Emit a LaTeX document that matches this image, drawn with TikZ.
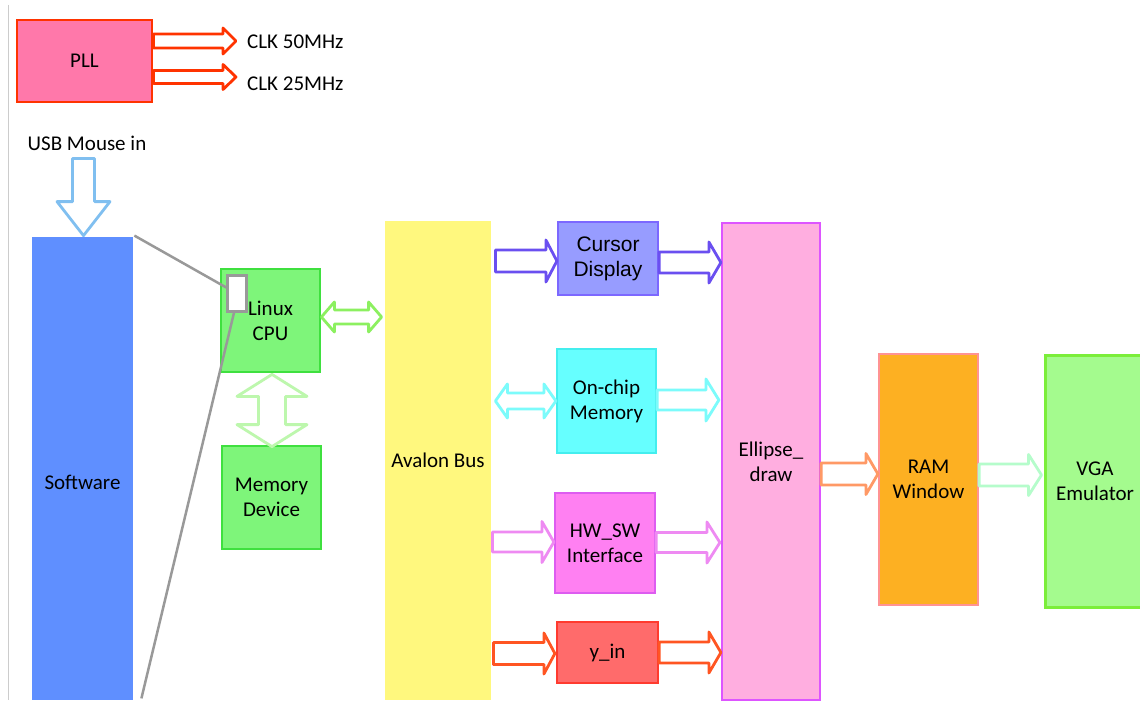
\documentclass[tikz,border=0pt]{standalone}
\usepackage{fontspec}
\setmainfont{Carlito}
\newfontfamily\arialf{Liberation Sans}
\usetikzlibrary{calc}

\definecolor{pllfill}{HTML}{FF78AA}
\definecolor{pllred}{HTML}{FF3300}
\definecolor{usbblue}{HTML}{80BFF0}
\definecolor{swblue}{HTML}{5F8FFF}
\definecolor{cpufill}{HTML}{7EF57A}
\definecolor{cpuborder}{HTML}{3FE03F}
\definecolor{cpuarr}{HTML}{8CF060}
\definecolor{memarr}{HTML}{BDF7AD}
\definecolor{avalonfill}{HTML}{FFF87E}
\definecolor{curfill}{HTML}{979CFF}
\definecolor{curborder}{HTML}{7C68FF}
\definecolor{curarr}{HTML}{6A4FF0}
\definecolor{ocfill}{HTML}{66FFFF}
\definecolor{ocborder}{HTML}{44EEEE}
\definecolor{ocarr}{HTML}{7CFBFB}
\definecolor{hwfill}{HTML}{FF80F2}
\definecolor{hwborder}{HTML}{DD5CF0}
\definecolor{hwarr}{HTML}{EE8AF2}
\definecolor{yinfill}{HTML}{FF6B6B}
\definecolor{yinborder}{HTML}{FF3B2F}
\definecolor{yinarr}{HTML}{FF5522}
\definecolor{ellfill}{HTML}{FFAEE0}
\definecolor{ellborder}{HTML}{DD55FF}
\definecolor{ellarr}{HTML}{FF9966}
\definecolor{ramfill}{HTML}{FDB022}
\definecolor{ramborder}{HTML}{FF9393}
\definecolor{ramarr}{HTML}{B5FCCB}
\definecolor{vgafill}{HTML}{A4FB8E}
\definecolor{vgaborder}{HTML}{7BEE3A}
\definecolor{linkgray}{HTML}{999999}
\definecolor{edgegray}{HTML}{CCCCCC}

% right-pointing block arrow: [colour]{from}{to}{y}{shaft half}{head half}{head length}
\newcommand\rarr[7][black]{\draw[blockarrow,draw=#1] let \p1=(#2), \p2=(#3) in
 (\x1,{(#4+#5)*1pt}) -- ({\x2-#7*1pt},{(#4+#5)*1pt}) -- ({\x2-#7*1pt},{(#4+#6)*1pt})
 -- (\x2,{#4*1pt}) -- ({\x2-#7*1pt},{(#4-#6)*1pt}) -- ({\x2-#7*1pt},{(#4-#5)*1pt})
 -- (\x1,{(#4-#5)*1pt}) -- cycle;}
% horizontal double block arrow
\newcommand\hdarr[7][black]{\draw[blockarrow,draw=#1] let \p1=(#2), \p2=(#3) in
 (\x1,{#4*1pt}) -- ({\x1+#7*1pt},{(#4+#6)*1pt}) -- ({\x1+#7*1pt},{(#4+#5)*1pt})
 -- ({\x2-#7*1pt},{(#4+#5)*1pt}) -- ({\x2-#7*1pt},{(#4+#6)*1pt}) -- (\x2,{#4*1pt})
 -- ({\x2-#7*1pt},{(#4-#6)*1pt}) -- ({\x2-#7*1pt},{(#4-#5)*1pt})
 -- ({\x1+#7*1pt},{(#4-#5)*1pt}) -- ({\x1+#7*1pt},{(#4-#6)*1pt}) -- cycle;}
% downward block arrow: [colour]{top}{tip}{x}{shaft half}{head half}{head length}
\newcommand\darr[7][black]{\draw[blockarrow,draw=#1] let \p1=(#2), \p2=(#3) in
 ({(#4-#5)*1pt},\y1) -- ({(#4+#5)*1pt},\y1) -- ({(#4+#5)*1pt},{\y2+#7*1pt})
 -- ({(#4+#6)*1pt},{\y2+#7*1pt}) -- ({#4*1pt},\y2) -- ({(#4-#6)*1pt},{\y2+#7*1pt})
 -- ({(#4-#5)*1pt},{\y2+#7*1pt}) -- cycle;}
% vertical double block arrow
\newcommand\vdarr[7][black]{\draw[blockarrow,draw=#1] let \p1=(#2), \p2=(#3) in
 ({#4*1pt},\y1) -- ({(#4+#6)*1pt},{\y1-#7*1pt}) -- ({(#4+#5)*1pt},{\y1-#7*1pt})
 -- ({(#4+#5)*1pt},{\y2+#7*1pt}) -- ({(#4+#6)*1pt},{\y2+#7*1pt}) -- ({#4*1pt},\y2)
 -- ({(#4-#6)*1pt},{\y2+#7*1pt}) -- ({(#4-#5)*1pt},{\y2+#7*1pt})
 -- ({(#4-#5)*1pt},{\y1-#7*1pt}) -- ({(#4-#6)*1pt},{\y1-#7*1pt}) -- cycle;}

\begin{document}
\begin{tikzpicture}[x=1pt,y=1pt,
  box/.style={draw, line width=2.8pt, inner sep=0pt, align=center,
    font={\fontsize{21}{25}\selectfont}},
  lbl/.style={inner sep=0pt, font={\fontsize{21}{25}\selectfont}},
  blockarrow/.style={fill=white, line width=2.8pt, line join=round},
  link/.style={draw=linkgray, line width=2.5pt}]
\useasboundingbox (0,0) rectangle (1140,-706);
\clip (0,0) rectangle (1140,-706);
\fill[white] (0,0) rectangle (1140,-706);

\draw[edgegray, line width=1pt] (8,-5) -- (8,-700);

% PLL and clocks
\node[box, fill=pllfill, draw=pllred, minimum width=135pt, minimum height=82pt] (pll) at (84.5,-61) {PLL};
\node[lbl, anchor=west] (clk50) at (247,-42) {CLK 50MHz};
\node[lbl, anchor=west] (clk25) at (247,-84) {CLK 25MHz};
\rarr[pllred]{pll.east}{$(clk50.west)+(-11,0)$}{-41}{7}{13}{13}
\rarr[pllred]{pll.east}{$(clk25.west)+(-11,0)$}{-77}{6.5}{12.5}{13}

% Software side
\node[lbl] (usb) at (87,-143) {USB Mouse in};
\node[box, draw=none, fill=swblue, minimum width=101pt, minimum height=463pt] (sw) at (82.5,-468.5) {};
\node[lbl] at (82.5,-482) {Software};
\darr[usbblue]{$(usb.south)+(0,-8)$}{sw.north}{83.5}{11}{26.5}{34}

% CPU and memory
\node[box, fill=cpufill, draw=cpuborder, minimum width=99pt, minimum height=103pt] (cpu) at (270.5,-320.5) {Linux\\CPU};
\node[box, fill=cpufill, draw=cpuborder, minimum width=99pt, minimum height=103pt] (mem) at (271.5,-497.5) {Memory\\Device};
\node[draw=linkgray, fill=white, line width=2.5pt, inner sep=0pt, minimum width=19pt, minimum height=36pt] (port) at (237,-293.5) {};
\draw[link] (sw.north east) -- ($(port.west)+(0,6)$);
\draw[link] ($(port.south)+(-3,0)$) -- ($(sw.south east)+(7,3)$);
\vdarr[memarr]{$(cpu.south)+(0,-1)$}{$(mem.north)+(0,-2)$}{272}{13.5}{35}{22}

% Avalon bus
\node[box, draw=none, fill=avalonfill, minimum width=106pt, minimum height=479pt] (avalon) at (438,-460.5) {Avalon Bus};
\hdarr[cpuarr]{cpu.east}{$(avalon.west)+(-2,0)$}{-317}{7}{15}{13}

% Peripherals
\node[box, fill=curfill, draw=curborder, line width=2.2pt, minimum width=100pt, minimum height=73pt, font={\arialf\fontsize{21}{25}\selectfont}] (cursor) at (608,-258.5) {Cursor\\Display};
\node[box, fill=ocfill, draw=ocborder, line width=2.2pt, minimum width=99pt, minimum height=104pt] (onchip) at (606.5,-401) {On-chip\\Memory};
\node[box, fill=hwfill, draw=hwborder, line width=2.2pt, minimum width=100pt, minimum height=100pt] (hwsw) at (605,-543) {HW\_SW\\Interface};
\node[box, fill=yinfill, draw=yinborder, line width=2.2pt, minimum width=101pt, minimum height=61pt] (yin) at (607.5,-652.5) {y\_in};

% Ellipse_draw, RAM, VGA
\node[box, fill=ellfill, draw=ellborder, line width=2.2pt, minimum width=98pt, minimum height=477pt] (ell) at (771,-461.5) {Ellipse\_\\draw};
\node[box, fill=ramfill, draw=ramborder, line width=2.2pt, minimum width=99pt, minimum height=251pt] (ram) at (928.5,-479.5) {RAM\\Window};
\node[box, fill=vgafill, draw=vgaborder, line width=3pt, minimum width=100pt, minimum height=252pt] (vga) at (1095,-481) {VGA\\Emulator};

% bus to peripherals
\rarr[curarr]{$(avalon.east)+(3,0)$}{cursor.west}{-261}{11}{21}{11}
\hdarr[ocarr]{$(avalon.east)+(3,0)$}{onchip.west}{-401}{8}{17}{12}
\rarr[hwarr]{avalon.east}{hwsw.west}{-542}{10}{20.5}{12}
\rarr[yinarr]{$(avalon.east)+(1,0)$}{$(yin.west)+(-1,0)$}{-653.5}{11}{20.5}{11}

% peripherals to Ellipse_draw
\rarr[curarr]{cursor.east}{ell.west}{-262.5}{10.5}{20.5}{12}
\rarr[ocarr]{onchip.east}{$(ell.west)+(-2,0)$}{-400}{10}{21}{13}
\rarr[hwarr]{hwsw.east}{$(ell.west)+(-1,0)$}{-542.5}{10}{20.5}{13}
\rarr[yinarr]{yin.east}{ell.west}{-652.5}{10.5}{20.5}{12}

% Ellipse_draw -> RAM -> VGA
\rarr[ellarr]{ell.east}{ram.west}{-474}{11}{20.5}{12}
\rarr[ramarr]{ram.east}{$(vga.west)+(-2,0)$}{-475}{11}{20.5}{13}
\end{tikzpicture}
\end{document}
